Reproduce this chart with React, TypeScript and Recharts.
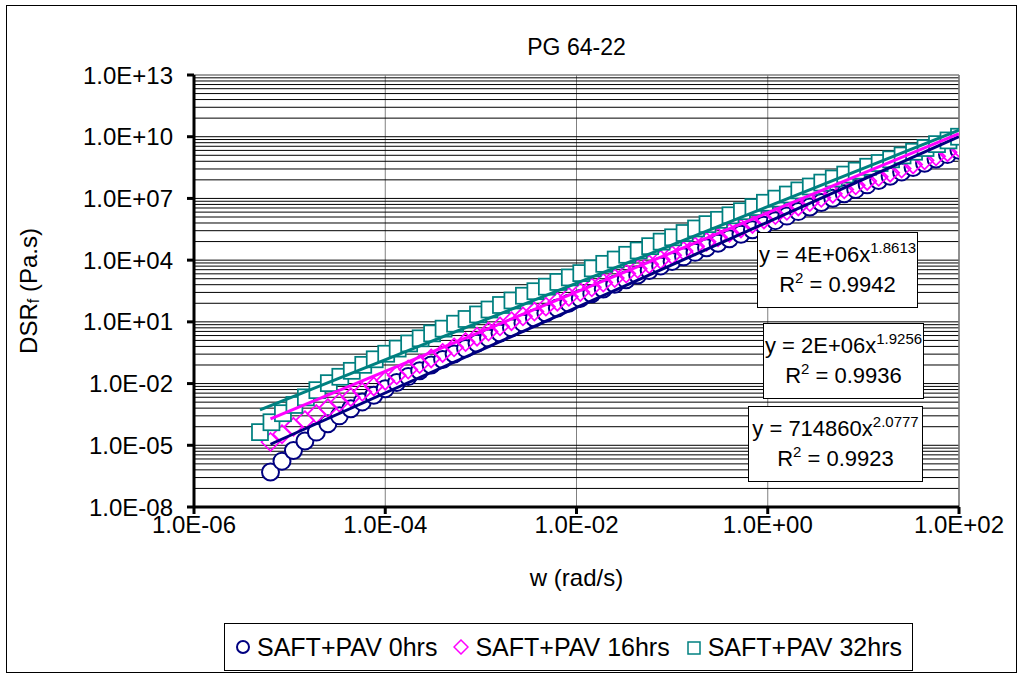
import React from "react";
import {
  ScatterChart,
  Scatter,
  XAxis,
  YAxis,
  CartesianGrid,
  ReferenceLine,
} from "recharts";

const FONT = "Arial, 'Liberation Sans', sans-serif";

const seriesNames = ["SAFT+PAV 0hrs", "SAFT+PAV 16hrs", "SAFT+PAV 32hrs"];
const seriesColors = ["#000080", "#FF00FF", "#008080"];

// log10 values: w (rad/s) and DSRf (Pa.s)
const logW0 = [
  -5.2, -5.08, -4.96, -4.84, -4.72, -4.6, -4.48, -4.36, -4.24, -4.12,
  -4.0, -3.88, -3.76, -3.64, -3.52, -3.4, -3.28, -3.16, -3.04, -2.92,
  -2.8, -2.68, -2.56, -2.44, -2.32, -2.2, -2.08, -1.96, -1.84, -1.72,
  -1.6, -1.48, -1.36, -1.24, -1.12, -1.0, -0.88, -0.76, -0.64, -0.52,
  -0.4, -0.28, -0.16, -0.04, 0.08, 0.2, 0.32, 0.44, 0.56, 0.68,
  0.8, 0.92, 1.04, 1.16, 1.28, 1.4, 1.52, 1.64, 1.76, 1.88,
  2.0,
];
const logDsr0 = [
  -6.3, -5.77, -5.25, -4.79, -4.36, -3.95, -3.57, -3.22, -2.89, -2.57,
  -2.25, -1.95, -1.66, -1.38, -1.1, -0.83, -0.56, -0.3, -0.04, 0.21,
  0.46, 0.71, 0.95, 1.19, 1.43, 1.67, 1.91, 2.14, 2.37, 2.6,
  2.83, 3.05, 3.28, 3.5, 3.72, 3.94, 4.16, 4.38, 4.6, 4.82,
  5.04, 5.26, 5.48, 5.7, 5.92, 6.14, 6.36, 6.58, 6.8, 7.01,
  7.23, 7.44, 7.66, 7.87, 8.08, 8.29, 8.5, 8.71, 8.92, 9.13,
  9.34,
];
const logW16 = logW0;
const logDsr16 = [
  -4.84, -4.46, -4.1, -3.78, -3.48, -3.19, -2.92, -2.66, -2.4, -2.14,
  -1.86, -1.59, -1.32, -1.05, -0.78, -0.51, -0.24, 0.02, 0.28, 0.53,
  0.78, 1.03, 1.27, 1.5, 1.74, 1.98, 2.22, 2.45, 2.68, 2.91,
  3.13, 3.35, 3.58, 3.8, 4.02, 4.24, 4.45, 4.67, 4.89, 5.11,
  5.33, 5.54, 5.76, 5.98, 6.19, 6.4, 6.61, 6.82, 7.03, 7.23,
  7.44, 7.64, 7.85, 8.05, 8.25, 8.45, 8.65, 8.85, 9.05, 9.25,
  9.46,
];
const logW32 = [
  -5.31, -5.19, -5.07, -4.95, -4.83, -4.71, -4.59, -4.47, -4.35, -4.23,
  -4.11, -3.99, -3.87, -3.75, -3.63, -3.51, -3.39, -3.27, -3.15, -3.03,
  -2.91, -2.79, -2.67, -2.55, -2.43, -2.31, -2.19, -2.07, -1.95, -1.83,
  -1.71, -1.59, -1.47, -1.35, -1.23, -1.11, -0.99, -0.87, -0.75, -0.63,
  -0.51, -0.39, -0.27, -0.15, -0.03, 0.09, 0.21, 0.33, 0.45, 0.57,
  0.69, 0.81, 0.93, 1.05, 1.17, 1.29, 1.41, 1.53, 1.65, 1.77,
  1.89, 2.0,
];
const logDsr32 = [
  -4.36, -3.88, -3.44, -3.04, -2.67, -2.32, -1.98, -1.67, -1.38, -1.09,
  -0.82, -0.55, -0.3, -0.05, 0.2, 0.44, 0.67, 0.91, 1.14, 1.36,
  1.6, 1.82, 2.04, 2.27, 2.49, 2.71, 2.94, 3.16, 3.37, 3.6,
  3.82, 4.03, 4.26, 4.47, 4.68, 4.9, 5.11, 5.32, 5.54, 5.75,
  5.96, 6.18, 6.38, 6.58, 6.79, 6.99, 7.19, 7.39, 7.58, 7.77,
  7.97, 8.16, 8.35, 8.54, 8.72, 8.9, 9.09, 9.27, 9.45, 9.64,
  9.82, 10.0,
];

// power trendlines y = a * x^b, as printed on the chart
const trendCoef = [714860, 2e6, 4e6];
const trendExp = [2.0777, 1.9256, 1.8613];
const trendR2 = [0.9923, 0.9936, 0.9942];

const xTicks = [1e-6, 1e-4, 1e-2, 1, 1e2];
const yTicks = [1e-8, 1e-5, 1e-2, 1e1, 1e4, 1e7, 1e10, 1e13];
// minor gridlines inside each labelled interval
const minorSteps = [8, 27, 64, 125, 216, 343, 512, 729];

const toPoints = (lx: number[], ly: number[]) =>
  lx.map((v, i) => ({ x: 10 ** v, y: 10 ** ly[i] }));

const trendPoints = (lx: number[], i: number) =>
  [lx[0], lx[lx.length - 1]].map((l) => {
    const x = 10 ** l;
    return { x, y: trendCoef[i] * x ** trendExp[i] };
  });

const series = [
  toPoints(logW0, logDsr0),
  toPoints(logW16, logDsr16),
  toPoints(logW32, logDsr32),
];
const trends = [trendPoints(logW0, 0), trendPoints(logW16, 1), trendPoints(logW32, 2)];

const gridY = yTicks.flatMap((t, i) =>
  i < yTicks.length - 1 ? [t, ...minorSteps.map((k) => t * k)] : []
);

const sci = (v: number) => {
  const [m, e] = v.toExponential(1).split("e");
  const n = parseInt(e, 10);
  return `${m}E${n < 0 ? "-" : "+"}${String(Math.abs(n)).padStart(2, "0")}`;
};

const fmtCoef = (v: number) => {
  if (v < 1e6) return String(v);
  const p = Math.floor(Math.log10(v));
  return `${Math.round(v / 10 ** p)}E+${String(p).padStart(2, "0")}`;
};

const circleShape = (p: any) => (
  <circle cx={p.cx} cy={p.cy} r={8.5} fill="#fff" stroke={seriesColors[0]} strokeWidth={2} />
);
// the diamonds are hollow, so the circles show through them
const diamondShape = (p: any) => (
  <path
    d={`M${p.cx},${p.cy - 9}L${p.cx + 9},${p.cy}L${p.cx},${p.cy + 9}L${p.cx - 9},${p.cy}Z`}
    fill="none"
    stroke={seriesColors[1]}
    strokeWidth={1.75}
  />
);
const squareShape = (p: any) => (
  <rect x={p.cx - 8} y={p.cy - 8} width={16} height={16} fill="#fff" stroke={seriesColors[2]} strokeWidth={1.75} />
);
const shapes = [circleShape, diamondShape, squareShape];
const noShape = () => <g />;

const tickStyle = { fontSize: 24, fill: "#000", fontFamily: FONT };

const renderYLabel = (p: any) => {
  const vb = p.viewBox;
  const cx = vb.x + 28;
  const cy = vb.y + vb.height / 2;
  return (
    <text
      x={cx}
      y={cy}
      transform={`rotate(-90 ${cx} ${cy})`}
      textAnchor="middle"
      dominantBaseline="central"
      fontSize={24}
      fontFamily={FONT}
      fill="#000"
    >
      DSR<tspan fontSize={16} dy={5}>f</tspan>
      <tspan dy={-5}> (Pa.s)</tspan>
    </text>
  );
};

const renderXLabel = (p: any) => {
  const vb = p.viewBox;
  return (
    <text
      x={vb.x + vb.width / 2}
      y={vb.y + 79}
      textAnchor="middle"
      fontSize={24}
      fontFamily={FONT}
      fill="#000"
    >
      w (rad/s)
    </text>
  );
};

const boxes = [
  { i: 2, left: 757, top: 232, width: 161 },
  { i: 1, left: 763, top: 323, width: 161 },
  { i: 0, left: 748, top: 406, width: 175 },
];

const supStyle: React.CSSProperties = { fontSize: 15, position: "relative", top: -9 };

const EquationBox = ({ i, left, top, width }: { i: number; left: number; top: number; width: number }) => (
  <div
    style={{
      position: "absolute",
      left,
      top,
      width,
      height: 76,
      boxSizing: "border-box",
      border: "1px solid #000",
      background: "#fff",
      textAlign: "center",
      fontSize: 22,
      lineHeight: "28px",
      paddingTop: 8,
      whiteSpace: "nowrap",
    }}
  >
    <div>
      y = {fmtCoef(trendCoef[i])}x<span style={supStyle}>{trendExp[i]}</span>
    </div>
    <div>
      R<span style={supStyle}>2</span> = {trendR2[i].toFixed(4)}
    </div>
  </div>
);

const LegendMarker = ({ i }: { i: number }) => (
  <svg width={16} height={16} style={{ marginRight: 6 }}>
    {i === 0 && <circle cx={8} cy={8} r={6} fill="#fff" stroke={seriesColors[0]} strokeWidth={2} />}
    {i === 1 && <path d="M8,1L15,8L8,15L1,8Z" fill="#fff" stroke={seriesColors[1]} strokeWidth={1.5} />}
    {i === 2 && <rect x={2} y={3} width={12} height={12} fill="#fff" stroke={seriesColors[2]} strokeWidth={1.5} />}
  </svg>
);

export default function App() {
  return (
    <div
      style={{
        position: "absolute",
        left: 0,
        top: 0,
        width: 1023,
        height: 677,
        background: "#fff",
        fontFamily: FONT,
        color: "#000",
      }}
    >
      <div
        style={{
          position: "absolute",
          left: 6,
          top: 5,
          width: 1009,
          height: 666,
          border: "1px solid #000",
        }}
      />
      <div style={{ position: "absolute", left: 0, top: 0 }}>
        <ScatterChart
          width={1023}
          height={677}
          margin={{ top: 75, right: 64, bottom: 110, left: 0 }}
        >
          <CartesianGrid horizontal={false} stroke="#808080" />
          {gridY.map((v) => (
            <ReferenceLine key={`g${v}`} y={v} stroke="#000" strokeWidth={1} />
          ))}
          <XAxis
            dataKey="x"
            type="number"
            scale="log"
            domain={[1e-6, 1e2]}
            ticks={xTicks}
            interval={0}
            allowDataOverflow
            tickFormatter={sci}
            height={60}
            tickSize={7}
            tickMargin={2}
            axisLine={{ stroke: "#000", strokeWidth: 3 }}
            tickLine={{ stroke: "#000", strokeWidth: 3 }}
            tick={tickStyle}
            label={renderXLabel}
          />
          <YAxis
            dataKey="y"
            type="number"
            scale="log"
            domain={[1e-8, 1e13]}
            ticks={yTicks}
            interval={0}
            allowDataOverflow
            tickFormatter={sci}
            width={194}
            tickSize={7}
            tickMargin={14}
            axisLine={{ stroke: "#000", strokeWidth: 3 }}
            tickLine={{ stroke: "#000", strokeWidth: 3 }}
            tick={tickStyle}
            label={renderYLabel}
          />
          {series.map((d, i) => (
            <Scatter
              key={seriesNames[i]}
              name={seriesNames[i]}
              data={d}
              shape={shapes[i]}
              isAnimationActive={false}
            />
          ))}
          {trends.map((d, i) => (
            <Scatter
              key={`trend-${i}`}
              data={d}
              shape={noShape}
              line={{ stroke: seriesColors[i], strokeWidth: 3 }}
              isAnimationActive={false}
            />
          ))}
          <ReferenceLine y={1e13} stroke="#808080" strokeWidth={1.5} />
          <ReferenceLine x={1e2} stroke="#808080" strokeWidth={1.5} />
        </ScatterChart>
      </div>
      <div
        style={{
          position: "absolute",
          left: 194,
          width: 765,
          top: 33,
          textAlign: "center",
          fontSize: 23,
          lineHeight: "28px",
        }}
      >
        PG 64-22
      </div>
      {boxes.map((b) => (
        <EquationBox key={b.i} {...b} />
      ))}
      <div
        style={{
          position: "absolute",
          left: 224,
          top: 623,
          width: 689,
          height: 48,
          boxSizing: "border-box",
          border: "1px solid #000",
          background: "#fff",
          display: "flex",
          alignItems: "center",
          justifyContent: "center",
          gap: 16,
          fontSize: 25,
          whiteSpace: "nowrap",
        }}
      >
        {seriesNames.map((n, i) => (
          <div key={n} style={{ display: "flex", alignItems: "center" }}>
            <LegendMarker i={i} />
            <span>{n}</span>
          </div>
        ))}
      </div>
    </div>
  );
}
